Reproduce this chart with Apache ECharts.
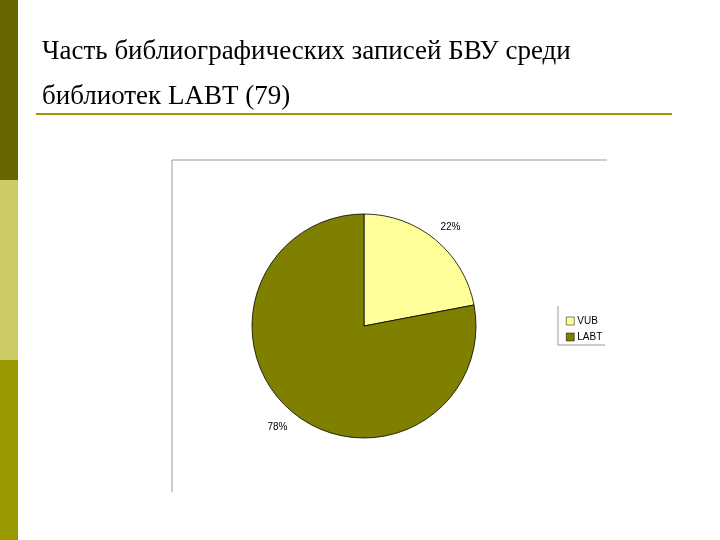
<!DOCTYPE html>
<html><head><meta charset="utf-8">
<script src="https://cdn.jsdelivr.net/npm/echarts@6/dist/echarts.min.js"></script>
<style>body{margin:0}#c{width:720px;height:540px}</style>
</head><body><div id="c"></div>
<script>
const names = ['VUB', 'LABT'];
const values = [22, 78];
const colors = ['#ffff99', '#808000'];

const chart = echarts.init(document.getElementById('c'));
chart.setOption({
    backgroundColor: '#fff',
    animation: false,
    title: {
        text: 'Часть библиографических записей БВУ среди\nбиблиотек LABT (79)',
        left: 37, top: 24,
        textStyle: { fontFamily: 'Liberation Serif', fontSize: 27, fontWeight: 'normal', color: '#000', lineHeight: 45 }
    },
    graphic: [
        { type: 'rect', shape: { x: 0, y: 0, width: 18, height: 180 }, style: { fill: '#666600' } },
        { type: 'rect', shape: { x: 0, y: 180, width: 18, height: 180 }, style: { fill: '#cccc66' } },
        { type: 'rect', shape: { x: 0, y: 360, width: 18, height: 180 }, style: { fill: '#999900' } },
        { type: 'line', shape: { x1: 36, y1: 114, x2: 672, y2: 114 }, style: { stroke: '#999900', lineWidth: 2 } },
        { type: 'polyline', shape: { points: [[172, 492], [172, 160], [607, 160]] }, style: { stroke: '#999', lineWidth: 1, fill: null } },
        { type: 'polyline', shape: { points: [[558, 306], [558, 345], [605, 345]] }, style: { stroke: '#999', lineWidth: 1, fill: null } }
    ],
    legend: {
        orient: 'vertical', left: 561, top: 311,
        itemWidth: 8, itemHeight: 8, itemGap: 6,
        icon: 'rect',
        textStyle: { fontFamily: 'Liberation Sans', fontSize: 10, color: '#000', padding: [0, 0, 0, -2] },
        itemStyle: { borderColor: '#000', borderWidth: 0.5 },
        data: names
    },
    series: [{
        type: 'pie',
        center: [364, 326],
        radius: 112,
        startAngle: 90,
        clockwise: true,
        itemStyle: { borderColor: '#000', borderWidth: 0.8 },
        label: {
            formatter: '{d}%', fontFamily: 'Liberation Sans', fontSize: 10, color: '#000',
            position: 'outside', distanceToLabelLine: 0
        },
        labelLine: { show: false, length: 8, length2: 0 },
        labelLayout: function (p) {
            return p.dataIndex === 0 ? { dy: -6 } : { dy: 9 };
        },
        data: names.map((n, i) => ({ name: n, value: values[i], itemStyle: { color: colors[i] } }))
    }]
});
</script></body></html>
